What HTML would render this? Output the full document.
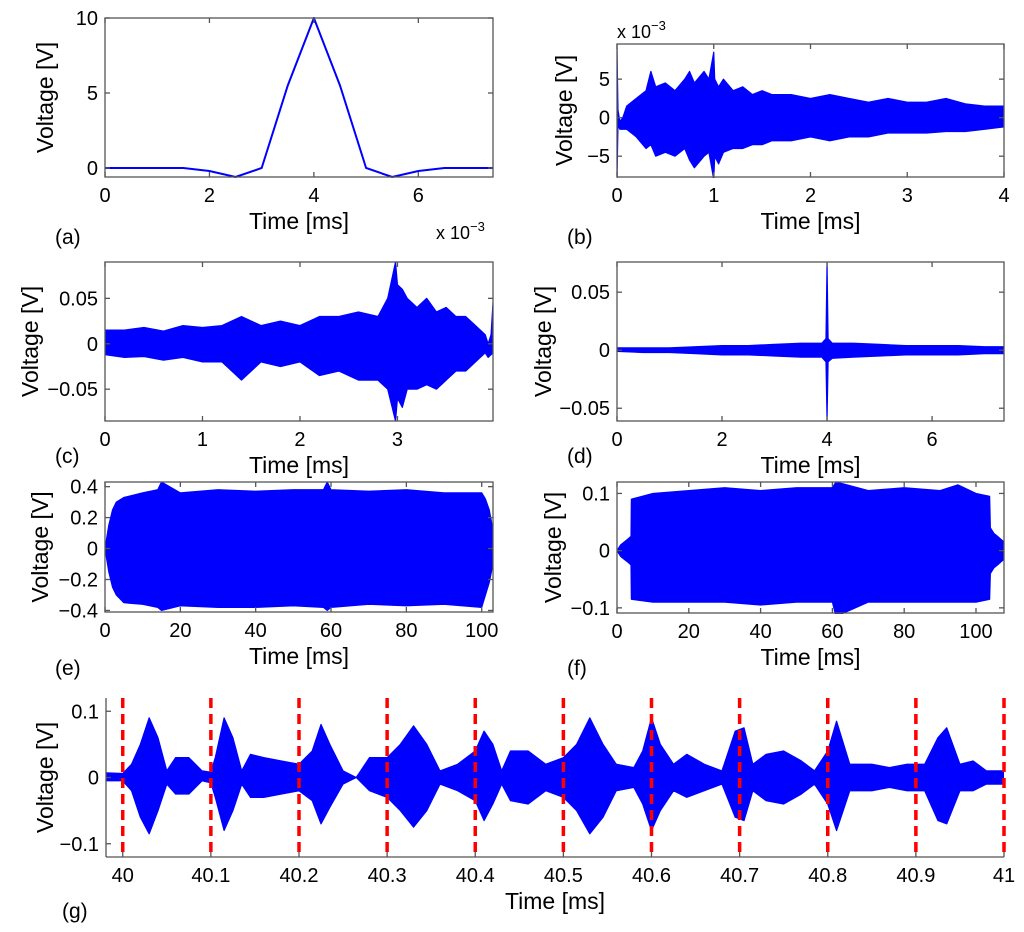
<!DOCTYPE html>
<html><head><meta charset="utf-8">
<style>
html,body{margin:0;padding:0;background:#fff;}
svg{display:block;font-family:"Liberation Sans",sans-serif;}
</style></head>
<body>
<svg id="fig" width="1024" height="932" viewBox="0 0 1024 932" xmlns="http://www.w3.org/2000/svg"></svg>
<script>
// ---- data ----
const aTime=[0,1.5,2,2.5,3,3.5,4,4.5,5,5.5,6,6.5,7.45];
const aVolt=[0,0,-0.2,-0.6,0,5.5,10,5.5,0,-0.6,-0.2,0,0];

const bTime=[0,0.01,0.03,0.06,0.1,0.2,0.3,0.35,0.4,0.5,0.6,0.7,0.75,0.8,0.9,0.95,1.0,1.01,1.05,1.1,1.2,1.3,1.4,1.5,1.6,1.8,2.0,2.2,2.4,2.6,2.8,3.0,3.2,3.4,3.6,3.8,4.0];
const bUpper=[9,1,-0.5,0,1.5,2.5,3.5,6,4,4.5,3.5,5,6,4.5,6,5,8.5,5,4,5,3.5,4,3,3.5,3,3,2.5,3,2.5,2,2.5,2,2,2.5,1.8,1.5,1.5];
const bLower=[-8,-1,-1.5,-1.5,-1.5,-2.5,-4,-3.5,-5,-4.5,-5,-4,-5.5,-6.5,-5,-4.5,-8,-5,-6,-4.5,-4,-4,-3.5,-3.5,-3,-3,-2.5,-3,-2.5,-2.5,-2,-2,-2,-1.8,-1.8,-1.5,-1.2];

const cTime=[0,0.2,0.4,0.6,0.8,1.0,1.2,1.4,1.6,1.8,2.0,2.2,2.4,2.6,2.8,2.9,2.98,3.0,3.05,3.1,3.2,3.3,3.4,3.5,3.6,3.7,3.8,3.9,3.93,3.96,3.98];
const cUpper=[0.015,0.015,0.018,0.014,0.02,0.018,0.02,0.03,0.02,0.025,0.02,0.03,0.03,0.035,0.03,0.05,0.09,0.065,0.06,0.05,0.04,0.05,0.035,0.04,0.03,0.03,0.02,0.01,0.0,0.01,0.045];
const cLower=[-0.012,-0.015,-0.014,-0.018,-0.015,-0.02,-0.02,-0.04,-0.02,-0.025,-0.02,-0.035,-0.03,-0.04,-0.04,-0.05,-0.085,-0.06,-0.07,-0.05,-0.05,-0.045,-0.05,-0.04,-0.03,-0.03,-0.02,-0.01,-0.015,-0.012,-0.01];

const dTime=[0,0.5,1,1.5,2,2.5,3,3.5,3.9,3.98,4.0,4.02,4.1,4.5,5,5.5,6,6.5,7,7.37];
const dUpper=[0.002,0.002,0.002,0.003,0.004,0.004,0.005,0.006,0.006,0.01,0.075,0.01,0.006,0.006,0.005,0.004,0.004,0.004,0.003,0.003];
const dLower=[-0.001,-0.002,-0.002,-0.003,-0.004,-0.004,-0.005,-0.006,-0.006,-0.01,-0.06,-0.01,-0.007,-0.006,-0.005,-0.004,-0.004,-0.004,-0.003,-0.003];

const eTime=[0,1,2,3,5,10,14,15,20,30,40,50,58,59,60,70,80,90,100,101,102,103];
const eUpper=[0,0.15,0.25,0.3,0.33,0.36,0.38,0.43,0.36,0.38,0.37,0.38,0.38,0.43,0.38,0.37,0.38,0.36,0.36,0.32,0.25,0.12];
const eLower=[0,-0.15,-0.25,-0.3,-0.35,-0.36,-0.38,-0.4,-0.37,-0.38,-0.38,-0.37,-0.38,-0.4,-0.38,-0.36,-0.37,-0.36,-0.38,-0.3,-0.22,-0.1];

const fTime=[0,1,2,3,3.9,4,10,20,30,40,50,60,61,70,80,90,95,100,103.8,104,105,106,107.8];
const fUpper=[0,0.01,0.015,0.02,0.025,0.09,0.1,0.105,0.11,0.105,0.11,0.11,0.12,0.105,0.11,0.105,0.115,0.1,0.095,0.04,0.03,0.025,0.015];
const fLower=[0,-0.01,-0.015,-0.02,-0.025,-0.085,-0.09,-0.09,-0.09,-0.095,-0.09,-0.09,-0.115,-0.09,-0.09,-0.09,-0.09,-0.09,-0.085,-0.04,-0.03,-0.025,-0.015];

const gTime=[39.98,40.0,40.01,40.02,40.03,40.04,40.05,40.06,40.075,40.09,40.1,40.105,40.115,40.125,40.135,40.145,40.16,40.18,40.2,40.215,40.225,40.235,40.25,40.265,40.28,40.3,40.315,40.33,40.345,40.36,40.38,40.4,40.41,40.42,40.43,40.44,40.46,40.48,40.5,40.515,40.53,40.545,40.56,40.58,40.59,40.6,40.61,40.625,40.64,40.66,40.68,40.695,40.705,40.715,40.73,40.75,40.77,40.785,40.8,40.81,40.825,40.85,40.87,40.89,40.91,40.925,40.935,40.95,40.965,40.98,41.0];
const gUpper=[0.007,0.006,0.02,0.05,0.09,0.06,0.01,0.03,0.03,0.01,0.008,0.03,0.09,0.06,0.01,0.035,0.03,0.025,0.02,0.04,0.08,0.05,0.01,0.0,0.03,0.03,0.05,0.078,0.05,0.01,0.02,0.04,0.07,0.05,0.01,0.04,0.04,0.02,0.03,0.05,0.09,0.05,0.02,0.015,0.04,0.09,0.05,0.02,0.035,0.02,0.01,0.07,0.075,0.02,0.035,0.04,0.025,0.01,0.04,0.085,0.02,0.02,0.015,0.02,0.02,0.06,0.075,0.02,0.025,0.01,0.01];
const gLower=[-0.005,-0.005,-0.02,-0.06,-0.085,-0.05,-0.01,-0.025,-0.025,-0.005,-0.008,-0.03,-0.08,-0.05,-0.01,-0.03,-0.03,-0.025,-0.02,-0.035,-0.07,-0.045,-0.01,-0.0,-0.02,-0.03,-0.05,-0.075,-0.05,-0.01,-0.02,-0.035,-0.065,-0.04,-0.01,-0.035,-0.04,-0.02,-0.03,-0.05,-0.085,-0.06,-0.02,-0.015,-0.04,-0.08,-0.05,-0.02,-0.03,-0.02,-0.01,-0.06,-0.065,-0.02,-0.035,-0.04,-0.025,-0.01,-0.04,-0.08,-0.02,-0.02,-0.015,-0.02,-0.02,-0.065,-0.07,-0.02,-0.02,-0.01,-0.01];
const gMarkers=[40,40.1,40.2,40.3,40.4,40.5,40.6,40.7,40.8,40.9,41];

const aXTicks=[0,2,4,6], aYTicks=[0,5,10];
const bXTicks=[0,1,2,3,4], bYTicks=[-5,0,5];
const cXTicks=[0,1,2,3], cYTicks=[-0.05,0,0.05];
const dXTicks=[0,2,4,6], dYTicks=[-0.05,0,0.05];
const eXTicks=[0,20,40,60,80,100], eYTicks=[-0.4,-0.2,0,0.2,0.4];
const fXTicks=[0,20,40,60,80,100], fYTicks=[-0.1,0,0.1];
const gXTicks=[40,40.1,40.2,40.3,40.4,40.5,40.6,40.7,40.8,40.9,41], gYTicks=[-0.1,0,0.1];

// ---- drawing ----
const NS="http://www.w3.org/2000/svg";
const svg=document.getElementById('fig');
function el(tag,attrs,parent,text){const e=document.createElementNS(NS,tag);for(const k in attrs)e.setAttribute(k,attrs[k]);if(text!==undefined)e.textContent=text;(parent||svg).appendChild(e);return e;}
function fmt(v){if(v===0)return '0';let s=String(+v.toFixed(4));return s.replace('-','\u2212');}

function panel(name,box,xd,yd,xt,yt,opts){
  const g=el('g',{},svg);
  
  
  const sx=v=>box.x+(v-xd[0])/(xd[1]-xd[0])*box.w;
  const sy=v=>box.y+box.h-(v-yd[0])/(yd[1]-yd[0])*box.h;
  const clipId='clip-'+name;
  const cp=el('clipPath',{id:clipId},g);el('rect',{x:box.x,y:box.y-1,width:box.w,height:box.h+2},cp);
  const plot=el('g',{'clip-path':'url(#'+clipId+')'},g);
  if(opts.line){
    const pts=opts.line[0].map((t,i)=>sx(t)+','+sy(opts.line[1][i])).join(' ');
    const l=el('polyline',{points:pts,fill:'none',stroke:'#0000ff','stroke-width':2},plot);
    
    
  }
  if(opts.env){
    const [t,u,lo]=opts.env;
    let pts=t.map((x,i)=>sx(x)+','+sy(u[i]));
    for(let i=t.length-1;i>=0;i--)pts.push(sx(t[i])+','+sy(lo[i]));
    const p=el('polygon',{points:pts.join(' '),fill:'#0000ff',stroke:'#0000ff','stroke-width':1.2,'stroke-linejoin':'round'},plot);
    
    
  }
  if(opts.markers){
    opts.markers.forEach(m=>{
      const l=el('line',{x1:sx(m),x2:sx(m),y1:box.y,y2:box.y+box.h,stroke:'#ff0000','stroke-width':3.5,'stroke-dasharray':'10,6'},g);
      
      
    });
  }
  const ax=el('g',{stroke:'#555','stroke-width':1.3,fill:'none'},g);
  if(opts.noBox){
    el('line',{x1:box.x,y1:box.y,x2:box.x,y2:box.y+box.h},ax);
    el('line',{x1:box.x,y1:box.y+box.h,x2:box.x+box.w,y2:box.y+box.h},ax);
  } else el('rect',{x:box.x,y:box.y,width:box.w,height:box.h},ax);
  xt.forEach(v=>{const x=sx(v);el('line',{x1:x,x2:x,y1:box.y+box.h,y2:box.y+box.h-5},ax);if(!opts.noBox)el('line',{x1:x,x2:x,y1:box.y,y2:box.y+5},ax);
    const t=el('text',{x:x,y:box.y+box.h+25,'font-size':20,'text-anchor':'middle',fill:'#000'},g,fmt(v));
    });
  yt.forEach(v=>{const y=sy(v);el('line',{x1:box.x,x2:box.x+5,y1:y,y2:y},ax);if(!opts.noBox)el('line',{x1:box.x+box.w,x2:box.x+box.w-5,y1:y,y2:y},ax);
    const t=el('text',{x:box.x-7,y:y+7,'font-size':20,'text-anchor':'end',fill:'#000'},g,fmt(v));
    });
  const xl=el('text',{x:box.x+box.w/2,y:box.y+box.h+52,'font-size':23,'text-anchor':'middle',fill:'#000'},g,'Time [ms]');
  
  const cy=box.y+box.h/2, cx=opts.ylx;
  const yl=el('text',{x:cx,y:cy,'font-size':23,'text-anchor':'middle',fill:'#000',transform:'rotate(-90 '+cx+' '+cy+')'},g,'Voltage [V]');
  
  const pl=el('text',{x:opts.lab[0],y:opts.lab[1],'font-size':21,fill:'#000'},g,opts.lab[2]);
  
  if(opts.exp){
    const t=el('text',{x:opts.exp[0],y:opts.exp[1],'font-size':18,fill:'#000'},g);
    
    el('tspan',{},t,'x 10');el('tspan',{dy:-8,'font-size':13},t,'\u22123');
  }
}

panel('panel-a',{x:105,y:18,w:388,h:159},[0,7.43],[-0.6,10],aXTicks,aYTicks,{line:[aTime,aVolt],ylx:53,lab:[55,244,'(a)'],exp:[436,239]});
panel('panel-b',{x:617,y:44,w:387,h:133},[0,4],[-7.7,9.56],bXTicks,bYTicks,{env:[bTime,bUpper,bLower],ylx:572,lab:[567,244,'(b)'],exp:[617,38]});
panel('panel-c',{x:105,y:262,w:388,h:159},[0,3.98],[-0.085,0.09],cXTicks,cYTicks,{env:[cTime,cUpper,cLower],ylx:38,lab:[55,463,'(c)']});
panel('panel-d',{x:617,y:262,w:387,h:159},[0,7.37],[-0.061,0.076],dXTicks,dYTicks,{env:[dTime,dUpper,dLower],ylx:551,lab:[567,463,'(d)']});
panel('panel-e',{x:105,y:482,w:388,h:130},[0,103],[-0.41,0.43],eXTicks,eYTicks,{env:[eTime,eUpper,eLower],ylx:48,lab:[55,675,'(e)']});
panel('panel-f',{x:617,y:482,w:387,h:131},[0,107.8],[-0.109,0.12],fXTicks,fYTicks,{env:[fTime,fUpper,fLower],ylx:561,lab:[567,675,'(f)']});
panel('panel-g',{x:106,y:698,w:898,h:159},[39.981,41.0],[-0.12,0.12],gXTicks,gYTicks,{env:[gTime,gUpper,gLower],markers:gMarkers,noBox:true,ylx:53,lab:[62,918,'(g)']});
</script>
</body></html>
